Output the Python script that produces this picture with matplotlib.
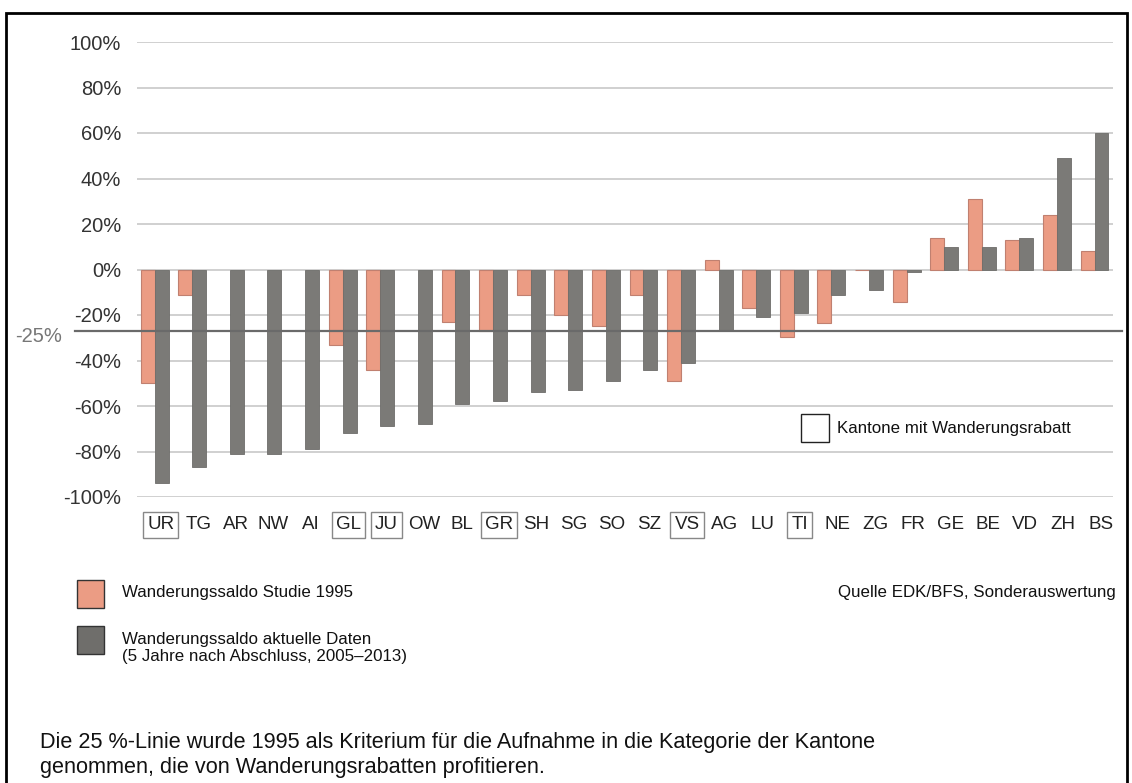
import matplotlib.pyplot as plt
import matplotlib.patches as mpatches
import matplotlib.transforms as mtransforms
import numpy as np

plt.rcParams['font.family'] = ['Liberation Sans', 'DejaVu Sans']

# Daten (nan = kein Wert)
kantone = ["UR", "TG", "AR", "NW", "AI", "GL", "JU", "OW", "BL", "GR", "SH", "SG", "SO",
           "SZ", "VS", "AG", "LU", "TI", "NE", "ZG", "FR", "GE", "BE", "VD", "ZH", "BS"]
saldo_1995 = [-50, -11, np.nan, np.nan, np.nan, -33, -44, np.nan, -23, -27, -11, -20, -25,
              -11, -49, 4, -17, -29.5, -23.5, -0.3, -14.5, 14, 31, 13, 24, 8]
saldo_aktuell = [-94, -87, -81, -81, -79, -72, -69, -68, -59, -58, -54, -53, -49,
                 -44, -41, -27, -21, -19, -11, -9, -1, 10, 10, 14, 49, 60]
mit_rabatt = ["UR", "GL", "JU", "GR", "VS", "TI"]
yticks = [-100, -80, -60, -40, -20, 0, 20, 40, 60, 80, 100]
linie_wert = -27
linie_label = "-25%"

W, H = 1132, 783
col_orange = "#eb9c84"
col_grau = "#7b7a77"


def fx(px):
    return px / W


def fy(py):
    return 1 - py / H


fig = plt.figure(figsize=(W / 100, H / 100), dpi=100)
ax = fig.add_axes([fx(137), fy(497), fx(1113) - fx(137), fy(42) - fy(497)])

x = np.arange(len(kantone))
bw = 0.37
ax.bar(x - bw / 2, saldo_1995, width=bw, color=col_orange, edgecolor="#c08070", linewidth=0.8, zorder=3)
ax.bar(x + bw / 2, saldo_aktuell, width=bw, color=col_grau, edgecolor="#6e6d6a", linewidth=0.6, zorder=3)

ax.set_xlim(-0.47, 25.49)
ax.set_ylim(-100, 100)
ax.set_yticks(yticks)
ax.set_yticklabels([f"{v}%" for v in yticks], fontsize=14.5, color="#333333")
ax.tick_params(axis="y", length=0, pad=11.5)
ax.yaxis.grid(True, color="#c8c8c8", linewidth=1.2, zorder=0)
for s in ax.spines.values():
    s.set_visible(False)

# Kantonsnamen
ax.set_xticks(x)
ax.set_xticklabels(kantone, fontsize=13.5, color="#222222")
ax.tick_params(axis="x", length=0, pad=14)
offset = mtransforms.ScaledTranslation(6 / 100, 0, fig.dpi_scale_trans)
for lab in ax.get_xticklabels():
    lab.set_transform(lab.get_transform() + offset)
    if lab.get_text() in mit_rabatt:
        lab.set_bbox(dict(boxstyle="square,pad=0.22", facecolor="white", edgecolor="#888888", linewidth=1))

# 25%-Linie
trans = mtransforms.blended_transform_factory(fig.transFigure, ax.transData)
ax.plot([fx(75), fx(1122)], [linie_wert, linie_wert], transform=trans, color="#6a6a6a",
        linewidth=1.6, clip_on=False, zorder=4)
fig.text(fx(15), fy(336), linie_label, fontsize=14.5, color="#777777", va="center", ha="left")

# Kantone mit Wanderungsrabatt
fig.patches.append(mpatches.Rectangle((fx(801), fy(442)), fx(28), fy(0) - fy(28), transform=fig.transFigure,
                                      facecolor="white", edgecolor="#222222", linewidth=1))
fig.text(fx(837), fy(428), "Kantone mit Wanderungsrabatt", fontsize=12.2, va="center", ha="left", color="#111111")

# Legende
fig.patches.append(mpatches.Rectangle((fx(77), fy(608)), fx(27), fy(0) - fy(28), transform=fig.transFigure,
                                      facecolor=col_orange, edgecolor="#333333", linewidth=1))
fig.patches.append(mpatches.Rectangle((fx(77), fy(654)), fx(27), fy(0) - fy(28), transform=fig.transFigure,
                                      facecolor="#6f6e6b", edgecolor="#333333", linewidth=1))
fig.text(fx(122), fy(593), "Wanderungssaldo Studie 1995", fontsize=12.2, va="center", ha="left", color="#111111")
fig.text(fx(122), fy(648), "Wanderungssaldo aktuelle Daten\n(5 Jahre nach Abschluss, 2005–2013)",
         fontsize=12.2, va="center", ha="left", color="#111111", linespacing=1.1)
fig.text(fx(1116), fy(593), "Quelle EDK/BFS, Sonderauswertung", fontsize=12.2, va="center", ha="right",
         color="#111111")

# Bildunterschrift
fig.text(fx(40), fy(755), "Die 25 %-Linie wurde 1995 als Kriterium für die Aufnahme in die Kategorie der Kantone\n"
         "genommen, die von Wanderungsrabatten profitieren.", fontsize=15.6, va="center", ha="left",
         color="#111111", linespacing=1.25)

# Rahmen
fig.patches.append(mpatches.Rectangle((fx(6), fy(800)), fx(1121), fy(13) - fy(800), transform=fig.transFigure,
                                      facecolor="none", edgecolor="black", linewidth=2))

fig.savefig("out.png", dpi=100)
